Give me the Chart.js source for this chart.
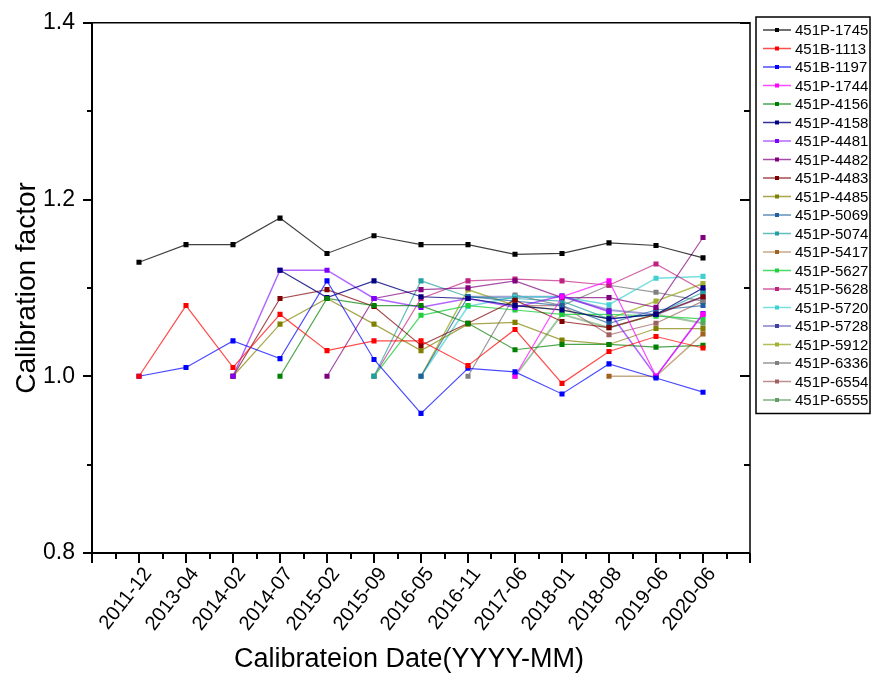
<!DOCTYPE html>
<html>
<head>
<meta charset="utf-8">
<script src="https://cdn.jsdelivr.net/npm/chart.js@4/dist/chart.umd.min.js"></script>
<style>
  html, body { margin: 0; padding: 0; background: #fff; }
  #wrap { width: 872px; height: 673px; position: relative; }
</style>
</head>
<body>
<div id="wrap"><canvas id="myChart" width="872" height="673"></canvas></div>
<script>
// calibration dates
const dates = ['2011-12','2013-04','2014-02','2014-07','2015-02','2015-09','2016-05','2016-11','2017-06','2018-01','2018-08','2019-06','2020-06'];
const yTicks = [0.8, 1.0, 1.2, 1.4];
const n = null;

const names = ['451P-1745','451B-1113','451B-1197','451P-1744','451P-4156','451P-4158','451P-4481','451P-4482','451P-4483','451P-4485','451P-5069','451P-5074','451P-5417','451P-5627','451P-5628','451P-5720','451P-5728','451P-5912','451P-6336','451P-6554','451P-6555'];

const p1745 = [1.129,1.149,1.149,1.179,1.139,1.159,1.149,1.149,1.138,1.139,1.151,1.148,1.134];
const b1113 = [1.0,1.08,1.01,1.07,1.029,1.04,1.04,1.012,1.053,0.992,1.028,1.045,1.032];
const b1197 = [1.0,1.01,1.04,1.02,1.108,1.019,0.958,1.009,1.005,0.98,1.014,0.998,0.982];
const p1744 = [n,n,n,n,n,n,n,n,1.0,1.09,1.108,1.0,1.07];
const p4156 = [n,n,n,1.0,1.088,1.08,1.08,1.06,1.03,1.036,1.036,1.033,1.035];
const p4158 = [n,n,n,1.12,1.089,1.108,1.09,1.088,1.08,1.075,1.065,1.07,1.1];
const p4481 = [n,n,1.0,1.12,1.12,1.088,1.078,1.088,1.078,1.091,1.073,1.0,1.071];
const p4482 = [n,n,n,n,1.0,1.088,1.098,1.1,1.108,1.089,1.089,1.078,1.157];
const p4483 = [n,n,1.0,1.088,1.098,1.079,1.035,1.06,1.086,1.062,1.055,1.07,1.09];
const p4485 = [n,n,1.0,1.059,1.088,1.059,1.029,1.059,1.061,1.041,1.036,1.054,1.054];
const p5069 = [n,n,n,n,n,n,1.0,1.09,1.085,1.08,1.06,1.075,1.08];
const p5074 = [n,n,n,n,n,1.0,1.108,1.09,1.088,1.085,1.065,1.07,1.095];
const p5417 = [n,n,n,n,n,n,n,n,n,n,1.0,1.0,1.048];
const p5627 = [n,n,n,n,n,1.0,1.069,1.08,1.075,1.07,1.07,1.068,1.065];
const p5628 = [n,n,n,n,n,1.0,1.088,1.108,1.11,1.108,1.103,1.127,1.097];
const p5720 = [n,n,n,n,n,n,1.0,1.079,1.09,1.09,1.081,1.111,1.113];
const p5728 = [n,n,n,n,n,n,n,1.09,1.09,1.09,1.075,1.07,1.09];
const p5912 = [n,n,n,n,n,n,1.0,1.098,1.08,1.075,1.065,1.085,1.105];
const p6336 = [n,n,n,n,n,n,n,1.0,1.092,1.08,1.103,1.095,1.085];
const p6554 = [n,n,n,n,n,n,n,n,1.08,1.08,1.047,1.06,1.085];
const p6555 = [n,n,n,n,n,n,n,n,1.0,1.07,1.055,1.07,1.06];

const series = [p1745,b1113,b1197,p1744,p4156,p4158,p4481,p4482,p4483,p4485,p5069,p5074,p5417,p5627,p5628,p5720,p5728,p5912,p6336,p6554,p6555];

// marker colour, line colour
const markColors = ['#000000','#ff0000','#0000ff','#ff00ff','#008000','#000080','#8000ff','#800080','#800000','#808000','#2060a0','#20a0a0','#a06020','#20d040','#c02080','#40d0d0','#4040a0','#a0b030','#808080','#a06060','#60a060'];
const lineColors = ['rgba(0,0,0,0.75)','rgba(255,0,0,0.7)','rgba(0,0,255,0.7)','rgba(255,0,255,0.7)','rgba(0,128,0,0.7)','rgba(0,0,128,0.8)','rgba(128,0,255,0.6)','rgba(128,0,128,0.7)','rgba(128,0,0,0.7)','rgba(128,128,0,0.7)','rgba(32,96,160,0.7)','rgba(32,160,160,0.7)','rgba(192,160,120,0.9)','rgba(32,208,64,0.8)','rgba(192,32,128,0.7)','rgba(64,208,208,0.7)','rgba(100,100,190,0.6)','rgba(160,176,48,0.8)','rgba(128,128,128,0.8)','rgba(160,96,96,0.7)','rgba(96,160,96,0.6)'];
const lineWidths = [1.2,1.2,1.2,1.2,1.2,1.2,1.5,1.2,1.2,1.2,1.2,1.2,1.5,1.2,1.2,1.5,2,1.5,1.2,1.2,2];

const datasets = series.map((vals, i) => ({
    label: names[i],
    data: vals.map((v, j) => ({x: j + 1, y: v})).filter(p => p.y !== null),
    borderColor: lineColors[i],
    backgroundColor: markColors[i],
    pointBackgroundColor: markColors[i],
    pointBorderColor: markColors[i],
    pointBorderWidth: 0,
    borderWidth: lineWidths[i],
    pointStyle: 'rect',
    pointRadius: 3.6,
    tension: 0
}));

const FONT = 'Arial, "Liberation Sans", sans-serif';

// axes frame, minor/major ticks, axis titles, boxed legend
const originStyle = {
    id: 'originStyle',
    afterDraw(chart) {
        const ctx = chart.ctx;
        const xs = chart.scales.x, ys = chart.scales.y;
        const L = chart.chartArea.left, R = chart.chartArea.right, T = chart.chartArea.top, B = chart.chartArea.bottom;
        ctx.save();
        ctx.strokeStyle = '#000';
        ctx.lineWidth = 2;
        ctx.beginPath();
        ctx.moveTo(L, T); ctx.lineTo(L, B); ctx.lineTo(R, B);
        ctx.stroke();
        ctx.lineWidth = 1.5;
        ctx.beginPath();
        ctx.moveTo(L, T); ctx.lineTo(R, T); ctx.lineTo(R, B);
        ctx.stroke();

        ctx.lineWidth = 2;
        ctx.beginPath();
        for (let k = 0; k <= 28; k++) {
            const px = Math.round(xs.getPixelForValue(k / 2));
            const len = k % 2 === 0 ? 10 : 6;
            ctx.moveTo(px, B); ctx.lineTo(px, B + len);
        }
        for (let k = 0; k <= 6; k++) {
            const py = Math.round(ys.getPixelForValue(0.8 + k * 0.1));
            const len = k % 2 === 0 ? 9 : 5;
            ctx.moveTo(L, py); ctx.lineTo(L - len, py);
            ctx.moveTo(R, py); ctx.lineTo(R - (k % 2 === 0 ? 10 : 6), py);
        }
        ctx.stroke();

        // axis titles
        ctx.fillStyle = '#000';
        ctx.textAlign = 'center';
        ctx.textBaseline = 'middle';
        ctx.font = '27px ' + FONT;
        ctx.fillText('Calibrateion Date(YYYY-MM)', 409, 660);
        ctx.save();
        ctx.translate(27, 288);
        ctx.rotate(-Math.PI / 2);
        ctx.font = '28px ' + FONT;
        ctx.fillText('Calibration factor', 0, 0);
        ctx.restore();

        // legend box
        const lx = 756, ly = 17, lw = 114, step = 18.5;
        ctx.lineWidth = 1.5;
        ctx.strokeStyle = '#000';
        ctx.strokeRect(lx, ly, lw, 13 + step * names.length - 5);
        ctx.font = '15px ' + FONT;
        ctx.textAlign = 'left';
        ctx.textBaseline = 'middle';
        chart.data.datasets.forEach((ds, i) => {
            const y = ly + 13 + i * step;
            ctx.strokeStyle = ds.borderColor;
            ctx.lineWidth = Math.max(1.5, ds.borderWidth);
            ctx.beginPath();
            ctx.moveTo(lx + 7, y); ctx.lineTo(lx + 35, y);
            ctx.stroke();
            ctx.fillStyle = ds.pointBackgroundColor;
            ctx.fillRect(lx + 19, y - 2, 4, 4);
            ctx.fillStyle = '#000';
            ctx.fillText(ds.label, lx + 39, y + 1);
        });
        ctx.restore();
    }
};

const ctx = document.getElementById('myChart');

new Chart(ctx, {
    type: 'line',
    data: { datasets: datasets },
    options: {
        responsive: false,
        animation: false,
        layout: { padding: { top: 15, right: 122, left: 0, bottom: 0 } },
        plugins: {
            legend: { display: false },
            tooltip: { enabled: false }
        },
        scales: {
            x: {
                type: 'linear',
                min: 0,
                max: 14,
                grid: { display: false },
                border: { display: false },
                afterBuildTicks: (scale) => {
                    scale.ticks = dates.map((d, i) => ({ value: i + 1 }));
                },
                afterFit: (scale) => { scale.height = 120; },
                ticks: {
                    autoSkip: false,
                    maxRotation: 52,
                    minRotation: 52,
                    padding: 2,
                    labelOffset: 9,
                    color: '#000',
                    font: { family: FONT, size: 20 },
                    callback: (v) => dates[v - 1] || ''
                }
            },
            y: {
                min: 0.8,
                max: 1.4,
                grid: { display: false },
                border: { display: false },
                afterBuildTicks: (scale) => {
                    scale.ticks = yTicks.map(v => ({ value: v }));
                },
                afterFit: (scale) => { scale.width = 92; },
                ticks: {
                    padding: 9,
                    color: '#000',
                    font: { family: FONT, size: 23 },
                    callback: (v) => v.toFixed(1)
                }
            }
        }
    },
    plugins: [originStyle]
});
</script>
</body>
</html>
